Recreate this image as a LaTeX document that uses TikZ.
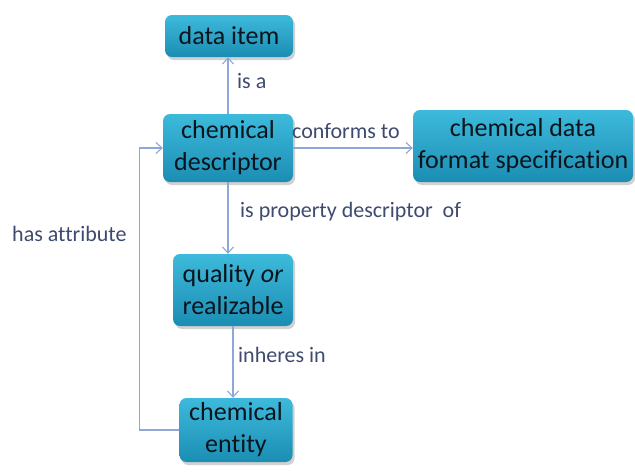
\documentclass[tikz,border=0pt]{standalone}
\usepackage{fontspec}
\setmainfont[Ligatures=NoCommon]{Carlito}
\usetikzlibrary{arrows.meta,shadows,calc}
\definecolor{boxtop}{HTML}{3DBADB}
\definecolor{boxbot}{HTML}{1B8DB3}
\definecolor{linkcol}{HTML}{8EA7D6}
\definecolor{labcol}{HTML}{3E4A6E}
\definecolor{txtcol}{HTML}{0A141C}
\tikzset{
  concept/.style={rectangle, rounded corners=7pt, top color=boxtop, bottom color=boxbot,
    draw=none, text=txtcol, align=center, font=\fontsize{26}{32}\selectfont,
    inner sep=0pt, drop shadow={shadow xshift=2pt, shadow yshift=-3pt, opacity=0.3, fill=black!60}},
  link/.style={draw=linkcol, line width=1.1pt, -{Straight Barb[length=6pt,width=11pt]}},
  linklabel/.style={text=labcol, font=\fontsize{22}{26}\selectfont, inner sep=0pt}
}
\begin{document}
\begin{tikzpicture}[x=1pt,y=-1pt]
\useasboundingbox (0,0) rectangle (635,472);
% concept boxes
\node[concept, minimum width=128pt, minimum height=42pt] (item) at (229,36) {data item};
\node[concept, minimum width=130pt, minimum height=68pt] (desc) at (228,148) {chemical\\descriptor};
\node[concept, minimum width=220pt, minimum height=72pt] (spec) at (523,146) {chemical data\\format specification};
\node[concept, minimum width=120pt, minimum height=72pt] (qual) at (233,290) {quality \textit{or}\\realizable};
\node[concept, minimum width=113pt, minimum height=64pt] (ent) at (236,430) {chemical\\entity};
% relations
\draw[link] (desc.north) -- (desc.north |- item.south);
\draw[link] (desc.east) -- (desc.east -| spec.west);
\draw[link] (desc.south) -- (desc.south |- qual.north);
\draw[link] (qual.south) -- (qual.south |- ent.north);
\coordinate (bend) at ($(ent.west)+(-40,0)$);
\draw[link] (ent.west) -- (bend) |- (desc.west);
% relation labels
\node[linklabel, anchor=west] (lisa) at (237,81) {is a};
\node[linklabel, anchor=west] (lconf) at (292,131) {conforms to};
\node[linklabel, anchor=west] (lprop) at (240,212) {is property descriptor\ \ of};
\node[linklabel, anchor=west] (linh) at (238,355) {inheres in};
\node[linklabel, anchor=west] (lattr) at (12,234) {has attribute};
\end{tikzpicture}
\end{document}
